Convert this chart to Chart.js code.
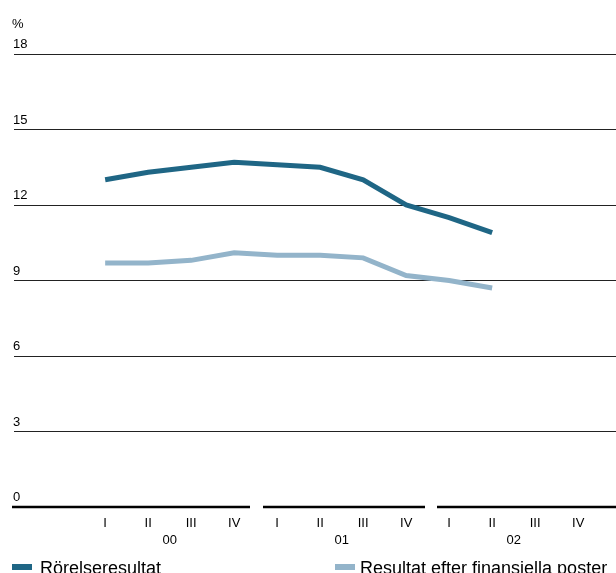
<!DOCTYPE html><html><head><style>body{margin:0;background:#fff}#w{width:616px;height:573px}</style>
<script src="https://cdn.jsdelivr.net/npm/chart.js@4"></script></head><body><div id="w"><canvas id="c"></canvas></div><script>
const quarters=['I','II','III','IV','I','II','III','IV','I','II','III','IV'];
const years=['00','01','02'];
const rorelse=[13.0,13.3,13.5,13.7,13.6,13.5,13.0,12.0,11.5,10.9];
const finans=[9.7,9.7,9.8,10.1,10.0,10.0,9.9,9.2,9.0,8.7];
const yTicks=[0,3,6,9,12,15,18];
const names=['Rörelseresultat','Resultat efter finansiella poster'];
const colors=['#1f6685','#93b4ca'];
const F='13px "Liberation Sans", Arial, sans-serif';
const pts=a=>a.map((v,i)=>({x:i,y:v}));
const deco={id:'deco',afterDraw(ch){
 const c=ch.ctx,x=ch.scales.x,y=ch.scales.y;c.save();c.font=F;c.fillStyle='#000';c.textBaseline='bottom';c.textAlign='left';
 c.fillText('%',12,y.getPixelForValue(18)-23);
 yTicks.forEach(t=>c.fillText(String(t),13,y.getPixelForValue(t)-3));
 const y0=y.getPixelForValue(0);c.strokeStyle='#000';c.lineWidth=2.5;
 [[12,250],[263,425],[437,616]].forEach(s=>{c.beginPath();c.moveTo(s[0],y0);c.lineTo(s[1],y0);c.stroke();});
 c.textAlign='center';c.textBaseline='middle';
 quarters.forEach((q,i)=>c.fillText(q,x.getPixelForValue(i),y0+16));
 years.forEach((t,k)=>c.fillText(t,x.getPixelForValue(k*4+1.5),y0+33));
 c.textAlign='left';c.textBaseline='alphabetic';c.font='18px "Liberation Sans", Arial, sans-serif';
 c.fillStyle=colors[0];c.fillRect(12,564,20,6);c.fillStyle='#000';c.fillText(names[0],40,574);
 c.fillStyle=colors[1];c.fillRect(335,564,20,6);c.fillStyle='#000';c.fillText(names[1],360,574);
 c.restore();}};
new Chart(document.getElementById('c'),{type:'line',
 data:{datasets:[{data:pts(rorelse),borderColor:colors[0],borderWidth:5},{data:pts(finans),borderColor:colors[1],borderWidth:5}]},
 options:{responsive:true,maintainAspectRatio:false,animation:false,layout:{padding:{top:54,bottom:66,left:14,right:0}},
  elements:{point:{radius:0},line:{tension:0,borderCapStyle:'butt'}},
  plugins:{legend:{display:false},tooltip:{enabled:false}},
  scales:{x:{type:'linear',min:-2.12,max:11.88,display:false},
   y:{min:0,max:18,border:{display:false},ticks:{display:false,stepSize:3},grid:{color:c=>c.tick.value===0?'rgba(0,0,0,0)':'#222',lineWidth:1,drawTicks:false}}}},
 plugins:[deco]});
</script></body></html>
